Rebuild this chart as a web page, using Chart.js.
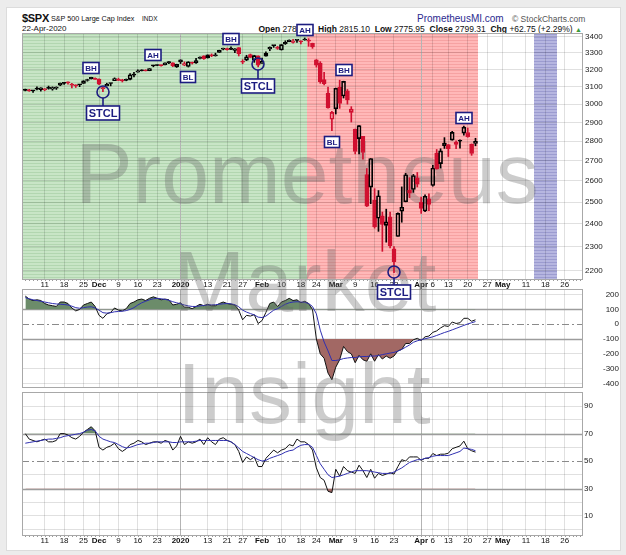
<!DOCTYPE html>
<html>
<head>
<meta charset="utf-8">
<title>$SPX</title>
<script src="https://cdn.jsdelivr.net/npm/chart.js@4.4.1/dist/chart.umd.min.js"></script>
<style>
  body { margin: 0; width: 626px; height: 555px; background: #ececec; overflow: hidden; font-family: 'Liberation Sans', Arial, sans-serif; }
  #frame { position: absolute; left: 6px; top: 7px; width: 613px; height: 542px; background: #fff; border: 1px solid #dcdcdc; }
  .t { position: absolute; white-space: nowrap; color: #111; line-height: 1; }
  canvas { position: absolute; left: 0; top: 0; }
</style>
</head>
<body>
<div id="frame"></div>
<div class="t" style="left:22px;top:13px;font-size:11px;font-weight:bold;letter-spacing:-0.3px">$SPX</div>
<div class="t" style="left:51px;top:15px;font-size:7.2px">S&amp;P 500 Large Cap Index</div>
<div class="t" style="left:142px;top:16px;font-size:6.5px">INDX</div>
<div class="t" style="left:22px;top:25px;font-size:8px">22-Apr-2020</div>
<div class="t" style="left:417px;top:14px;font-size:10px;color:#2b2b8f">PrometheusMI.com</div>
<div class="t" style="left:512px;top:15px;font-size:8.5px;color:#555">&copy; StockCharts.com</div>
<div class="t" style="right:44px;top:25px;font-size:8.5px"><b>Open</b> 2787.89 &nbsp;<b>High</b> 2815.10 &nbsp;<b>Low</b> 2775.95 &nbsp;<b>Close</b> 2799.31 &nbsp;<b>Chg</b> +62.75 (+2.29%) <span style="color:#3a9a3a;font-size:7px">&#9650;</span></div>

<canvas id="rsi" width="626" height="555" style="z-index:1"></canvas>
<canvas id="cci" width="626" height="555" style="z-index:2"></canvas>
<canvas id="price" width="626" height="555" style="z-index:3"></canvas>

<script>
// trading days from 4-Nov-2019 (index 0) to 22-Apr-2020 (index 116)
const prevClose = 3066.91;
const open = [3078.96,3080.80,3075.10,3087.02,3081.25,3080.33,3089.28,3084.18,3090.75,3107.92,
  3117.91,3127.45,3114.66,3108.49,3111.41,3117.44,3134.85,3145.49,3147.18,3143.85,
  3087.41,3103.50,3119.21,3134.62,3141.86,3135.36,3135.75,3141.23,3166.65,3183.63,
  3195.40,3195.21,3192.32,3223.33,3226.05,3225.45,3227.20,3247.23,3240.09,3215.18,
  3244.67,3226.36,3217.55,3241.86,3238.59,3266.03,3281.81,3271.13,3285.35,3282.27,
  3302.97,3323.66,3321.03,3330.02,3315.77,3333.10,3247.16,3255.35,3289.46,3256.45,
  3282.33,3235.66,3280.61,3324.91,3344.92,3335.54,3318.28,3365.87,3370.50,3365.90,
  3378.08,3369.04,3380.39,3380.45,3360.50,3257.61,3238.94,3139.90,3062.54,2916.90,
  2974.28,3096.46,3045.75,3075.70,2954.20,2863.89,2813.48,2825.60,2630.86,2569.99,
  2508.59,2425.66,2436.50,2393.48,2431.94,2290.71,2344.44,2457.77,2501.29,2555.87,
  2558.98,2614.69,2498.08,2458.54,2514.92,2578.28,2738.65,2685.00,2776.99,2782.46,
  2805.10,2795.64,2799.34,2842.43,2845.62,2784.81,2787.89];
const high = [3085.20,3083.95,3078.34,3097.77,3093.09,3088.33,3102.61,3098.06,3098.20,3120.46,
  3124.17,3127.64,3118.97,3110.11,3112.87,3133.83,3142.69,3154.26,3150.30,3144.31,
  3094.97,3119.38,3119.45,3150.60,3148.87,3142.12,3143.98,3176.28,3182.68,3197.71,
  3198.22,3198.48,3205.48,3225.65,3227.78,3226.43,3240.08,3247.93,3240.92,3231.72,
  3258.14,3246.15,3246.84,3244.91,3267.07,3275.58,3282.99,3288.13,3294.25,3298.66,
  3317.11,3329.88,3329.79,3337.77,3326.88,3333.18,3258.85,3285.78,3293.47,3285.91,
  3282.33,3268.44,3306.92,3337.58,3347.96,3341.42,3352.26,3375.63,3381.47,3385.09,
  3380.69,3375.01,3393.52,3389.15,3360.76,3259.81,3246.99,3182.51,3097.07,2959.72,
  3090.96,3136.72,3130.97,3083.04,2985.93,2863.89,2882.59,2825.60,2660.95,2711.33,
  2562.98,2553.93,2453.57,2466.97,2453.01,2300.73,2449.71,2571.42,2637.01,2615.91,
  2631.80,2641.39,2522.75,2533.22,2538.18,2676.85,2756.89,2760.75,2818.57,2782.46,
  2851.85,2801.88,2806.51,2879.22,2868.98,2785.54,2815.10];
const low = [3074.87,3072.15,3065.89,3080.23,3073.58,3075.82,3084.73,3078.80,3083.26,3104.60,
  3112.06,3113.47,3091.41,3094.55,3099.26,3117.44,3131.00,3143.41,3139.34,3110.78,
  3070.33,3102.53,3103.76,3134.62,3135.46,3126.09,3133.21,3138.47,3156.51,3183.63,
  3191.03,3191.14,3192.32,3216.03,3222.30,3220.51,3227.20,3234.37,3216.57,3212.03,
  3235.53,3222.34,3214.64,3232.43,3236.67,3263.67,3260.86,3268.43,3277.19,3280.69,
  3302.82,3318.86,3316.61,3320.04,3301.87,3281.53,3234.50,3253.22,3271.89,3242.80,
  3214.68,3235.66,3280.61,3313.75,3334.39,3322.12,3317.77,3352.72,3369.72,3360.52,
  3366.15,3355.61,3378.83,3341.02,3328.45,3214.65,3118.77,3108.99,2977.39,2855.84,
  2945.19,2976.63,3034.38,2999.83,2901.54,2734.43,2734.00,2707.22,2478.86,2492.37,
  2380.94,2367.04,2280.52,2319.78,2295.56,2191.86,2344.44,2407.53,2500.72,2520.02,
  2545.28,2571.15,2447.49,2455.79,2459.96,2574.57,2657.67,2663.30,2762.36,2721.17,
  2805.10,2761.54,2764.32,2830.88,2820.43,2727.10,2775.95];
const close = [3078.27,3074.62,3076.78,3085.18,3093.08,3087.01,3091.84,3094.04,3096.63,3120.46,
  3122.03,3120.18,3108.46,3103.54,3110.29,3133.64,3140.52,3153.63,3140.98,3113.87,
  3093.20,3112.76,3117.43,3145.91,3135.96,3132.52,3141.63,3168.57,3168.80,3191.45,
  3192.52,3191.14,3205.37,3221.22,3224.01,3223.38,3239.91,3240.02,3221.29,3230.78,
  3257.85,3234.85,3246.28,3237.18,3253.05,3274.70,3265.35,3288.13,3283.15,3289.29,
  3316.81,3329.62,3320.79,3321.75,3325.54,3295.47,3243.63,3276.24,3273.40,3283.66,
  3225.52,3248.92,3297.59,3334.69,3345.78,3327.71,3352.09,3357.75,3379.45,3373.94,
  3380.16,3370.29,3386.15,3373.23,3337.75,3225.89,3128.21,3116.39,2978.76,2954.22,
  3090.23,3003.37,3130.12,3023.94,2972.37,2746.56,2882.23,2741.38,2480.64,2711.02,
  2386.13,2529.19,2398.10,2409.39,2304.92,2237.40,2447.33,2475.56,2630.07,2541.47,
  2626.65,2584.59,2470.50,2526.90,2488.65,2663.68,2659.41,2749.98,2789.82,2761.63,
  2846.06,2783.36,2799.55,2874.56,2823.16,2736.56,2799.31];

const cci = [190,170,160,165,160,140,130,125,120,150,
  150,140,110,90,100,130,140,150,120,60,
  40,70,80,110,95,90,105,140,150,165,
  170,160,175,185,175,165,170,165,130,135,
  145,115,115,105,120,135,125,135,125,125,
  140,150,140,135,130,95,30,60,55,65,
  5,25,80,140,150,120,150,160,175,160,
  165,145,155,140,100,-100,-200,-230,-330,-375,
  -290,-240,-150,-185,-200,-260,-210,-240,-250,-200,
  -250,-205,-235,-215,-230,-215,-180,-170,-130,-130,
  -105,-95,-110,-85,-80,-55,-45,-25,-10,-15,
  15,5,10,40,40,20,30];
const cciSignal = [180,172,165,160,155,150,145,140,137,135,
  133,130,122,112,108,112,116,118,110,95,
  78,75,78,84,86,88,92,100,112,130,
  145,155,165,172,175,172,168,162,152,145,
  138,130,124,120,120,124,127,130,131,132,
  135,138,140,138,132,118,95,82,72,63,
  48,45,55,75,95,105,120,135,145,150,
  152,150,148,140,120,70,-40,-120,-180,-245,
  -245,-240,-232,-228,-225,-225,-220,-218,-218,-215,
  -215,-212,-205,-200,-195,-190,-182,-170,-155,-140,
  -122,-112,-105,-98,-92,-85,-76,-66,-56,-48,
  -38,-28,-18,-8,2,10,18];
const rsi = [70,66,65,64,65,66,64,64,65,70,
  70,69,67,66,68,71,73,75,72,60,
  58,60,61,63,59,57,59,62,63,65,
  64,62,63,64,64,63,65,64,58,61,
  68,62,64,63,64,66,62,67,64,62,
  66,67,65,64,62,57,49,53,51,53,
  46,46,52,55,58,56,58,59,62,61,
  66,64,64,62,58,45,38,36,28,27,
  44,39,46,43,42,41,47,43,38,44,
  37.5,41,39.5,40.5,41.5,40.5,46,51,50,53,
  53,53,50.5,52,52,55.5,54,55,55,55.7,
  59,60,61,64.5,59,57.5,56.5];
const rsiSignal = [63,63.5,64,64.5,65,65.5,66,66,66.5,67,
  68,68.5,69,69.5,70,71,72.5,73,72,68,
  66,65,64,63.5,62,60.5,59.5,60,61,62,
  62.5,63,63,63.5,64,64,64,64,63.5,63.5,
  64,64,64,64,64.5,65,65,65,65,65,
  65,65,65,64,62,59.5,57,55.5,54,52.5,
  51,50,50.5,52,53,54,55,56.5,57.5,58,
  60,61.5,62,62,60,54,48,44,40,38,
  38.5,39,40,41,42,43,43,43,43,42.5,
  42,41.5,41,41,41,42,43.5,45,47,49,
  50,51,51,52,52.5,53.5,54,54,54,54,
  55,56,57,59.5,59,58.5,57.5];

// x ticks (trading-day index, incl. future days) and their labels
const tickIdx = [5,10,15,19,24,29,34,40,47,52,56,61,66,71,75,80,85,90,95,102,105,109,114,119,123,129,134,139];
const tickLabels = ['11','18','25','Dec','9','16','23','2020','13','21','27','Feb','10','18','24','Mar','9','16','23','Apr','6','13','20','27','May','11','18','26'];
const boldLabels = ['Dec','2020','Feb','Mar','Apr','May'];
const darkLines = ['2020','Apr'];
const lastDay = 143;

const priceTicks = [2200,2300,2400,2500,2600,2700,2800,2900,3000,3100,3200,3300,3400];
const cciTicks = [200,100,0,-100,-200,-300,-400];
const rsiTicks = [0,10,20,30,40,50,60,70,80,90,100];
const rsiLabelled = [10,30,50,70,90];

// shaded periods (trading-day index)
const zoneFrom = [-1, 72.5, 131];
const zoneTo = [72.5, 116.6, 137];

// annotations: label, day index, price of label centre, price of circle
const annText   = ['BH','STCL','AH','BL','BH','STCL','AH','BH','BL','STCL','AH'];
const annIdx    = [17, 20, 33, 42, 53, 60, 72, 82, 79, 95, 113];
const annPrice  = [3209, 2951, 3290, 3158, 3389, 3102, 3443, 3199, 2798, 2116, 2926];
const annCircle = [null, 3069, null, null, null, 3235, null, null, null, 2196, null];

const FONT = "'Liberation Sans', Arial, sans-serif";
const RED = '#d11030';
const NAVY = '#1c1c80';
const zoneBase = ['rgb(200,229,198)', 'rgb(255,184,184)', 'rgb(182,182,224)'];
const zoneStripe = ['rgb(178,214,176)', 'rgb(246,162,162)', 'rgb(156,156,208)'];

Chart.defaults.font.family = FONT;
Chart.defaults.animation = false;

const pts = arr => arr.map((v, i) => ({ x: i, y: v }));

function xScale(showLabels) {
  return {
    type: 'linear', min: -0.85, max: lastDay + 0.7, offset: false,
    afterBuildTicks: s => { s.ticks = tickIdx.map(v => ({ value: v })); },
    afterFit: s => { s.height = showLabels ? 12 : 0; },
    ticks: {
      display: showLabels, autoSkip: false, maxRotation: 0, padding: 1, color: '#111',
      font: c => ({ family: FONT, size: 8, weight: boldLabels.includes(tickLabels[c.index]) ? 'bold' : 'normal' }),
      callback: (v, i) => tickLabels[i]
    },
    grid: {
      offset: false, drawTicks: false,
      color: c => darkLines.includes(tickLabels[c.index]) ? '#b4b4b4' : 'rgba(0,0,0,0.12)'
    },
    border: { display: false }
  };
}

function yScale(o) {
  return Object.assign({
    position: 'right',
    afterFit: s => { s.width = 36; },
    grid: { drawTicks: false, color: 'rgba(0,0,0,0.12)' },
    border: { display: false },
    ticks: { font: { size: 8 }, color: '#222', padding: 2, crossAlign: 'near' }
  }, o);
}

// reference lines + panel frame + small day ticks
function panelPlugin(solid, dashed, minor) {
  return {
    id: 'panel',
    beforeDatasetsDraw(chart) {
      const { ctx, chartArea: a, scales: { y } } = chart;
      ctx.save();
      ctx.strokeStyle = '#9c9c9c';
      ctx.lineWidth = 1.6;
      solid.forEach(v => {
        const p = Math.round(y.getPixelForValue(v)) + 0.5;
        ctx.beginPath(); ctx.moveTo(a.left, p); ctx.lineTo(a.right, p); ctx.stroke();
      });
      ctx.strokeStyle = '#8a8a8a';
      ctx.lineWidth = 1;
      ctx.setLineDash([7, 3, 2, 3]);
      dashed.forEach(v => {
        const p = Math.round(y.getPixelForValue(v)) + 0.5;
        ctx.beginPath(); ctx.moveTo(a.left, p); ctx.lineTo(a.right, p); ctx.stroke();
      });
      ctx.restore();
    },
    afterDatasetsDraw(chart) {
      const { ctx, chartArea: a, scales: { x } } = chart;
      ctx.save();
      ctx.strokeStyle = '#a8a8a8';
      ctx.lineWidth = 1;
      ctx.strokeRect(Math.round(a.left) + 0.5, Math.round(a.top) + 0.5, Math.round(a.right - a.left) - 1, Math.round(a.bottom - a.top));
      if (minor) {
        ctx.fillStyle = '#9a9a9a';
        for (let i = 0; i <= lastDay; i++) {
          ctx.fillRect(Math.round(x.getPixelForValue(i)), Math.round(a.bottom) + 1, 1, 1);
        }
      }
      ctx.restore();
    }
  };
}

const pricePlugin = {
  id: 'priceDeco',
  beforeDraw(chart) {
    const { ctx, chartArea: a, scales: { x } } = chart;
    ctx.save();
    zoneFrom.forEach((f, k) => {
      const x0 = Math.max(a.left, Math.round(x.getPixelForValue(f)));
      const x1 = Math.min(a.right, Math.round(x.getPixelForValue(zoneTo[k])));
      ctx.fillStyle = zoneBase[k];
      ctx.fillRect(x0, a.top, x1 - x0, a.bottom - a.top);
      ctx.fillStyle = zoneStripe[k];
      for (let yy = Math.round(a.top) + 1; yy < a.bottom; yy += 3) ctx.fillRect(x0, yy, x1 - x0, 1);
    });
    ctx.restore();
  },
  beforeDatasetsDraw(chart) {
    const { ctx } = chart;
    ctx.save();
    ctx.fillStyle = 'rgba(100,100,100,0.33)';
    ctx.textAlign = 'center';
    ctx.textBaseline = 'alphabetic';
    ctx.font = '86px ' + FONT;
    ctx.fillText('Prometheus', 307, 203);
    ctx.fillText('Market', 305, 311);
    ctx.fillText('Insight', 304, 423);
    ctx.restore();
  },
  afterDraw(chart) {
    const { ctx, scales: { x, y } } = chart;
    ctx.save();
    ctx.strokeStyle = NAVY;
    ctx.lineWidth = 1.6;
    annText.forEach((t, k) => {
      const px = Math.round(x.getPixelForValue(annIdx[k]));
      const py = Math.round(y.getPixelForValue(annPrice[k]));
      const big = t === 'STCL';
      ctx.font = 'bold ' + (big ? 11 : 8) + 'px ' + FONT;
      const w = Math.round(ctx.measureText(t).width + 4);
      const h = big ? 14 : 11;
      if (annCircle[k] !== null) {
        const cy = Math.round(y.getPixelForValue(annCircle[k]));
        ctx.beginPath(); ctx.arc(px, cy, 6, 0, 2 * Math.PI); ctx.stroke();
        ctx.beginPath(); ctx.moveTo(px, cy + 6); ctx.lineTo(px, py - h / 2); ctx.stroke();
      }
      ctx.fillStyle = '#fff';
      ctx.fillRect(px - w / 2, py - h / 2, w, h);
      ctx.strokeRect(px - w / 2, py - h / 2, w, h);
      ctx.fillStyle = NAVY;
      ctx.textAlign = 'center';
      ctx.textBaseline = 'middle';
      ctx.fillText(t, px, py + 0.5);
    });
    ctx.restore();
  }
};

// candles: red when close below prior close, filled when close below open
const candleColor = close.map((c, i) => c < (i ? close[i - 1] : prevClose) ? RED : '#000');
const bodyFill = close.map((c, i) => c < open[i] ? candleColor[i] : 'rgba(0,0,0,0)');
const bodies = close.map((c, i) => ({ x: i, y: [open[i], c] }));
const upperWick = close.map((c, i) => ({ x: i, y: [Math.max(open[i], c), high[i]] }));
const lowerWick = close.map((c, i) => ({ x: i, y: [low[i], Math.min(open[i], c)] }));

new Chart(document.getElementById('price'), {
  type: 'bar',
  data: {
    datasets: [
      { data: bodies, backgroundColor: bodyFill, borderColor: candleColor, borderWidth: 1, borderSkipped: false, barThickness: 4, grouped: false, minBarLength: 1 },
      { data: upperWick, backgroundColor: candleColor, borderWidth: 0, barThickness: 1, grouped: false },
      { data: lowerWick, backgroundColor: candleColor, borderWidth: 0, barThickness: 1, grouped: false }
    ]
  },
  options: {
    responsive: false, events: [],
    layout: { padding: { left: 22, top: 33, right: 7, bottom: 264 } },
    plugins: { legend: { display: false }, tooltip: { enabled: false } },
    scales: {
      x: xScale(true),
      y: yScale({
        type: 'logarithmic', min: 2166, max: 3425,
        afterBuildTicks: s => { s.ticks = priceTicks.map(v => ({ value: v })); },
        ticks: { font: { size: 8 }, color: '#222', padding: 2, crossAlign: 'near', callback: v => String(v) }
      })
    }
  },
  plugins: [pricePlugin, panelPlugin([], [], true)]
});

const GREEN_FILL = 'rgb(108,140,106)';
const BROWN_FILL = 'rgb(162,104,100)';
const CLEAR = 'rgba(0,0,0,0)';

new Chart(document.getElementById('cci'), {
  type: 'line',
  data: {
    datasets: [
      { data: pts(cciSignal), borderColor: '#2f2fb0', borderWidth: 1, pointRadius: 0, fill: false },
      { data: pts(cci), borderColor: '#111', borderWidth: 1, pointRadius: 0, fill: { target: { value: 100 }, above: GREEN_FILL, below: CLEAR } },
      { data: pts(cci), borderColor: CLEAR, borderWidth: 1, pointRadius: 0, fill: { target: { value: -100 }, above: CLEAR, below: BROWN_FILL } }
    ]
  },
  options: {
    responsive: false, events: [],
    layout: { padding: { left: 22, top: 289, right: 7, bottom: 168 } },
    plugins: { legend: { display: false }, tooltip: { enabled: false } },
    scales: {
      x: xScale(false),
      y: yScale({
        type: 'linear', min: -424, max: 238,
        afterBuildTicks: s => { s.ticks = cciTicks.map(v => ({ value: v })); },
        grid: { drawTicks: false, color: c => [0, 100, -100].includes(c.tick.value) ? CLEAR : 'rgba(0,0,0,0.12)' },
        ticks: { font: { size: 8 }, color: '#222', padding: 3, crossAlign: 'far', callback: v => String(v) }
      })
    }
  },
  plugins: [panelPlugin([100, -100], [0], false)]
});

new Chart(document.getElementById('rsi'), {
  type: 'line',
  data: {
    datasets: [
      { data: pts(rsiSignal), borderColor: '#2f2fb0', borderWidth: 1, pointRadius: 0, fill: false },
      { data: pts(rsi), borderColor: '#111', borderWidth: 1, pointRadius: 0, fill: { target: { value: 70 }, above: GREEN_FILL, below: CLEAR } },
      { data: pts(rsi), borderColor: CLEAR, borderWidth: 1, pointRadius: 0, fill: { target: { value: 30 }, above: CLEAR, below: BROWN_FILL } }
    ]
  },
  options: {
    responsive: false, events: [],
    layout: { padding: { left: 22, top: 392, right: 7, bottom: 8.5 } },
    plugins: { legend: { display: false }, tooltip: { enabled: false } },
    scales: {
      x: xScale(true),
      y: yScale({
        type: 'linear', min: -3.5, max: 100.3,
        afterBuildTicks: s => { s.ticks = rsiTicks.map(v => ({ value: v })); },
        grid: { drawTicks: false, color: c => [30, 50, 70].includes(c.tick.value) ? CLEAR : 'rgba(0,0,0,0.12)' },
        ticks: { font: { size: 8 }, color: '#222', padding: 1, crossAlign: 'near', callback: v => rsiLabelled.includes(v) ? String(v) : '' }
      })
    }
  },
  plugins: [panelPlugin([70, 30], [50], true)]
});
</script>
</body>
</html>
